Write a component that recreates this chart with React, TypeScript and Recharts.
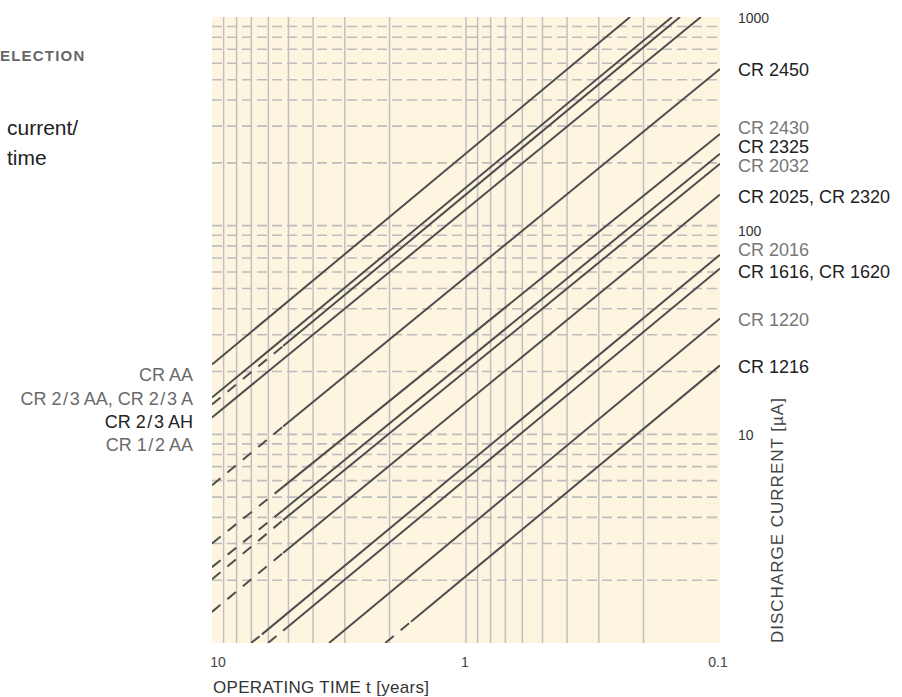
import React from 'react';
import { LineChart, Line, XAxis, YAxis, CartesianGrid } from 'recharts';

// Battery lines (discharge current vs operating time, log-log)
const LINE_NAMES = ['CR AA', 'CR 2/3 AA', 'CR 2/3 AH', 'CR 1/2 AA', 'CR 2450', 'CR 2430', 'CR 2325', 'CR 2032', 'CR 2025', 'CR 2016', 'CR 1616', 'CR 1220', 'CR 1216'];
// start of each line (years, µA)
const START_T = [10, 10, 10, 10, 10, 10, 10, 10, 10, 7.02, 6.02, 3.46, 2.08];
const START_I = [21.6, 15.0, 13.9, 12.05, 5.7, 3.0, 2.31, 2.02, 1.41, 1, 1, 1, 1];
// where the dashed part turns solid
const BREAK_T = [10, 10, 5.25, 10, 5.25, 5.25, 5.25, 5.25, 5.25, 6.36, 5.25, 3.46, 1.646];
const BREAK_I = [21.6, 15.0, 26.5, 12.05, 10.9, 5.6, 4.33, 3.88, 2.7, 1.1, 1.145, 1, 1.265];
// end of each line
const END_T = [0.226, 0.1545, 0.1437, 0.119, 0.1, 0.1, 0.1, 0.1, 0.1, 0.1, 0.1, 0.1, 0.1];
const END_I = [1000, 1000, 1000, 1000, 564, 275, 221, 198, 141, 72.6, 62.3, 35.9, 21.4];

const X_GRID = [9, 8, 7, 6, 5, 4, 3, 2, 1, 0.9, 0.8, 0.7, 0.6, 0.5, 0.4, 0.3, 0.2];
const Y_GRID = [900, 800, 700, 600, 500, 400, 300, 200, 100, 90, 80, 70, 60, 50, 40, 30, 20, 10, 9, 8, 7, 6, 5, 4, 3, 2];
const X_TICKS = [10, 1, 0.1];
const Y_TICKS = [1000, 100, 10];

const RIGHT_LABELS = ['CR 2450', 'CR 2430', 'CR 2325', 'CR 2032', 'CR 2025, CR 2320', 'CR 2016', 'CR 1616, CR 1620', 'CR 1220', 'CR 1216'];
const LEFT_LABELS = ['CR AA', 'CR 2/3 AA, CR 2/3 A', 'CR 2/3 AH', 'CR 1/2 AA'];

const RIGHT_Y = [70, 128, 147, 166, 197, 250, 272, 320, 367];
const RIGHT_DARK = [true, false, true, false, true, false, true, false, true];
const LEFT_Y = [375, 399, 422, 445];
const LEFT_DARK = [false, false, true, false];

const FONT = '"Liberation Sans", Arial, sans-serif';
const LINE_COLOR = '#4e4e4e';

function SlashText({ txt }: { txt: string }) {
  const pieces: React.ReactNode[] = [];
  const parts = txt.split('/');
  parts.forEach((p, idx) => {
    if (idx > 0) {
      pieces.push(<tspan key={'s' + idx} dx={1.6}>/</tspan>);
      pieces.push(<tspan key={'p' + idx} dx={1.6}>{p}</tspan>);
    } else {
      pieces.push(<tspan key={'p' + idx}>{p}</tspan>);
    }
  });
  return <>{pieces}</>;
}

const XTick = (props: any) => {
  const { x, payload } = props;
  const v = payload.value;
  const dx = v === 10 ? 6 : v === 1 ? -1 : -2;
  return (
    <text x={x + dx} y={662} textAnchor="middle" dominantBaseline="central" fontSize={14} fill="#444" fontFamily={FONT}>
      {v}
    </text>
  );
};

const YTick = (props: any) => {
  const { y, payload } = props;
  const dy = payload.value === 100 ? 5 : 1;
  return (
    <text x={738} y={y + dy} textAnchor="start" dominantBaseline="central" fontSize={14} fill="#333" fontFamily={FONT}>
      {payload.value}
    </text>
  );
};

export default function App() {
  const lines: React.ReactNode[] = [];
  LINE_NAMES.forEach((name, k) => {
    if (START_T[k] !== BREAK_T[k]) {
      lines.push(
        <Line
          key={name + '-d'}
          data={[{ t: START_T[k], i: START_I[k] }, { t: BREAK_T[k], i: BREAK_I[k] }]}
          dataKey="i"
          type="linear"
          stroke={LINE_COLOR}
          strokeWidth={2}
          strokeDasharray="11 9"
          dot={false}
          activeDot={false}
          isAnimationActive={false}
        />
      );
    }
    lines.push(
      <Line
        key={name + '-s'}
        data={[{ t: BREAK_T[k], i: BREAK_I[k] }, { t: END_T[k], i: END_I[k] }]}
        dataKey="i"
        type="linear"
        stroke={LINE_COLOR}
        strokeWidth={2}
        dot={false}
        activeDot={false}
        isAnimationActive={false}
      />
    );
  });

  return (
    <div style={{ position: 'absolute', left: 0, top: 0, width: 902, height: 697, background: '#fff', fontFamily: FONT, overflow: 'hidden' }}>
      <LineChart width={902} height={697} margin={{ top: 17, right: 122, bottom: 24, left: 212 }}>
        <CartesianGrid horizontal={false} vertical={false} fill="#fef5e0" fillOpacity={1} stroke="none" />
        <CartesianGrid horizontal={true} vertical={false} horizontalValues={Y_GRID} stroke="#bdbdbd" strokeWidth={1.6} strokeDasharray="10 5" />
        <CartesianGrid horizontal={false} vertical={true} verticalValues={X_GRID} stroke="#c0c0c0" strokeWidth={1.5} />
        <XAxis
          dataKey="t"
          type="number"
          scale="log"
          domain={[0.1, 10]}
          reversed
          allowDataOverflow
          ticks={X_TICKS}
          interval={0}
          tick={XTick}
          axisLine={false}
          tickLine={false}
          height={30}
        />
        <YAxis
          type="number"
          scale="log"
          domain={[1, 1000]}
          allowDataOverflow
          orientation="right"
          ticks={Y_TICKS}
          interval={0}
          tick={YTick}
          axisLine={false}
          tickLine={false}
          width={60}
        />
        {lines}
      </LineChart>

      <svg width={902} height={697} style={{ position: 'absolute', left: 0, top: 0, pointerEvents: 'none' }}>
        <text x={0} y={55} fontSize={15} fontWeight="bold" letterSpacing={1.2} fill="#666" dominantBaseline="central" fontFamily={FONT}>ELECTION</text>
        <text x={7} y={127} fontSize={21} fill="#222" dominantBaseline="central" fontFamily={FONT}>current/</text>
        <text x={7} y={157} fontSize={21} fill="#222" dominantBaseline="central" fontFamily={FONT}>time</text>

        {LEFT_LABELS.map((l, k) => (
          <text key={l} x={193} y={LEFT_Y[k]} fontSize={18} textAnchor="end" fill={LEFT_DARK[k] ? '#222' : '#6a6a6a'} dominantBaseline="central" fontFamily={FONT}>
            <SlashText txt={l} />
          </text>
        ))}

        {RIGHT_LABELS.map((l, k) => (
          <text key={l} x={738} y={RIGHT_Y[k]} fontSize={18} textAnchor="start" fill={RIGHT_DARK[k] ? '#222' : '#777'} dominantBaseline="central" fontFamily={FONT}>
            {l}
          </text>
        ))}

        <text x={213} y={687} fontSize={17} letterSpacing={0.3} fill="#333" dominantBaseline="central" fontFamily={FONT}>OPERATING TIME t [years]</text>
        <text transform="translate(777,643) rotate(-90)" x={0} y={0} fontSize={17} letterSpacing={1} fill="#444" dominantBaseline="central" fontFamily={FONT}>DISCHARGE CURRENT [µA]</text>
      </svg>
    </div>
  );
}
